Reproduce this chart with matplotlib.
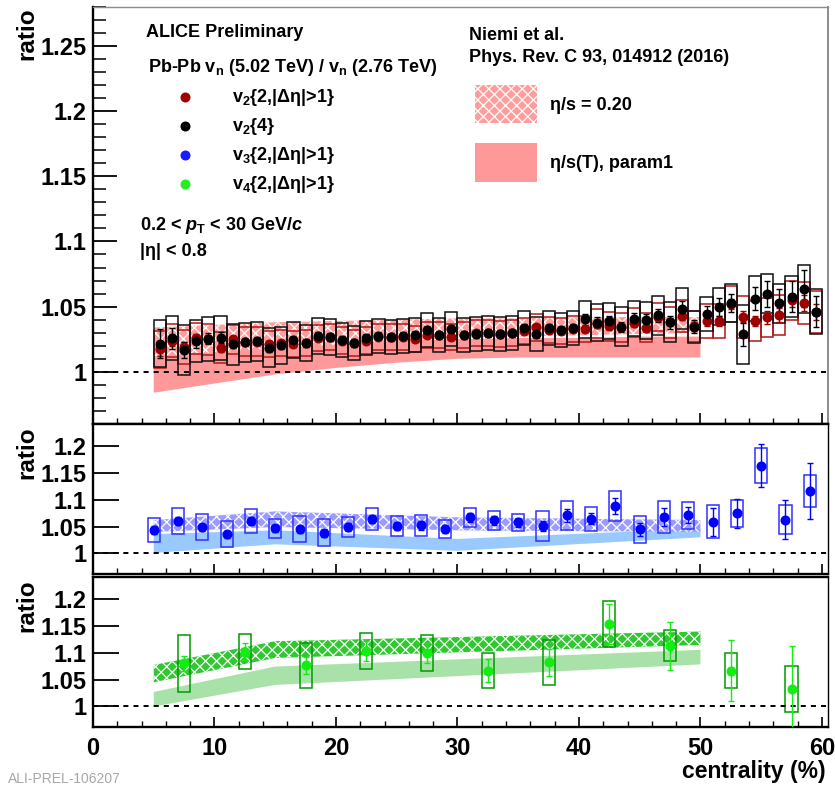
import numpy as np
import matplotlib
matplotlib.use("Agg")
import matplotlib.pyplot as plt
from matplotlib.patches import Rectangle
from matplotlib.lines import Line2D
from matplotlib.ticker import MultipleLocator, FixedLocator, FixedFormatter

# ---------------------------------------------------------------- data
# v2 ratios, 1% centrality bins
cent_v2 = [5.5, 6.5, 7.5, 8.5, 9.5, 10.5, 11.5, 12.5, 13.5, 14.5,
           15.5, 16.5, 17.5, 18.5, 19.5, 20.5, 21.5, 22.5, 23.5, 24.5,
           25.5, 26.5, 27.5, 28.5, 29.5, 30.5, 31.5, 32.5, 33.5, 34.5,
           35.5, 36.5, 37.5, 38.5, 39.5, 40.5, 41.5, 42.5, 43.5, 44.5,
           45.5, 46.5, 47.5, 48.5, 49.5, 50.5, 51.5, 52.5, 53.5, 54.5,
           55.5, 56.5, 57.5, 58.5, 59.5]

v24_ratio = [1.0216, 1.0257, 1.0167, 1.0236, 1.0254, 1.0262, 1.0210, 1.0226, 1.0234, 1.0185,
             1.0203, 1.0244, 1.0223, 1.0274, 1.0269, 1.0241, 1.0218, 1.0262, 1.0272, 1.0270,
             1.0275, 1.0282, 1.0318, 1.0282, 1.0326, 1.0282, 1.0287, 1.0300, 1.0287, 1.0300,
             1.0338, 1.0287, 1.0334, 1.0318, 1.0338, 1.0403, 1.0377, 1.0390, 1.0346, 1.0408,
             1.0395, 1.0434, 1.0382, 1.0485, 1.0344, 1.0446, 1.0500, 1.0526, 1.0287, 1.0562,
             1.0600, 1.0526, 1.0577, 1.0638, 1.0462]
v24_stat = [0.011, 0.008, 0.006, 0.005, 0.004, 0.004, 0.003, 0.003, 0.003, 0.003,
            0.003, 0.003, 0.003, 0.003, 0.003, 0.003, 0.003, 0.003, 0.003, 0.003,
            0.003, 0.003, 0.003, 0.003, 0.003, 0.003, 0.003, 0.003, 0.003, 0.003,
            0.003, 0.003, 0.003, 0.003, 0.003, 0.004, 0.004, 0.004, 0.004, 0.004,
            0.005, 0.005, 0.005, 0.006, 0.005, 0.006, 0.007, 0.007, 0.009, 0.009,
            0.010, 0.011, 0.012, 0.014, 0.012]
v24_syst = [0.018, 0.017, 0.0195, 0.016, 0.017, 0.017, 0.016, 0.015, 0.015, 0.015,
            0.014, 0.014, 0.014, 0.014, 0.014, 0.013, 0.013, 0.013, 0.013, 0.013,
            0.013, 0.013, 0.013, 0.013, 0.013, 0.013, 0.013, 0.013, 0.013, 0.013,
            0.013, 0.013, 0.013, 0.013, 0.013, 0.014, 0.014, 0.014, 0.015, 0.0135,
            0.014, 0.015, 0.015, 0.0155, 0.012, 0.013, 0.014, 0.0145, 0.0225, 0.017,
            0.015, 0.015, 0.016, 0.0185, 0.017]

v22_ratio = [1.0172, 1.0240, 1.0190, 1.0257, 1.0250, 1.0185, 1.0250, 1.0230, 1.0230, 1.0210,
             1.0220, 1.0210, 1.0220, 1.0260, 1.0270, 1.0240, 1.0220, 1.0240, 1.0270, 1.0265,
             1.0270, 1.0250, 1.0280, 1.0280, 1.0267, 1.0280, 1.0300, 1.0300, 1.0290, 1.0300,
             1.0313, 1.0340, 1.0320, 1.0310, 1.0330, 1.0326, 1.0370, 1.0350, 1.0340, 1.0377,
             1.0338, 1.0420, 1.0380, 1.0428, 1.0350, 1.0390, 1.0390, 1.0520, 1.0423, 1.0390,
             1.0420, 1.0436, 1.0550, 1.0526, 1.0460]
v22_stat = [0.005, 0.004, 0.004, 0.003, 0.003, 0.003, 0.002, 0.002, 0.002, 0.002,
            0.002, 0.002, 0.002, 0.002, 0.002, 0.002, 0.002, 0.002, 0.002, 0.002,
            0.002, 0.002, 0.002, 0.002, 0.002, 0.002, 0.002, 0.002, 0.002, 0.002,
            0.002, 0.002, 0.002, 0.002, 0.002, 0.002, 0.003, 0.003, 0.003, 0.003,
            0.003, 0.003, 0.003, 0.003, 0.003, 0.004, 0.004, 0.004, 0.004, 0.004,
            0.005, 0.005, 0.005, 0.006, 0.006]
v22_syst = [0.014, 0.013, 0.013, 0.012, 0.012, 0.012, 0.011, 0.011, 0.011, 0.010,
            0.010, 0.010, 0.010, 0.010, 0.010, 0.010, 0.010, 0.010, 0.010, 0.010,
            0.010, 0.010, 0.010, 0.010, 0.010, 0.010, 0.010, 0.010, 0.010, 0.010,
            0.010, 0.010, 0.010, 0.010, 0.010, 0.010, 0.011, 0.011, 0.011, 0.011,
            0.011, 0.011, 0.012, 0.012, 0.012, 0.013, 0.013, 0.014, 0.016, 0.015,
            0.015, 0.015, 0.015, 0.016, 0.016]

# v3 ratio, 2% centrality bins
cent_v3 = [5, 7, 9, 11, 13, 15, 17, 19, 21, 23, 25, 27, 29, 31,
           33, 35, 37, 39, 41, 43, 45, 47, 49, 51, 53, 55, 57, 59]
v3_ratio = [1.0433, 1.0606, 1.0483, 1.0353, 1.0606, 1.0465, 1.0446, 1.0383, 1.0495, 1.0638,
            1.0508, 1.0520, 1.0452, 1.0669, 1.0613, 1.0576, 1.0508, 1.0712, 1.0644, 1.0879,
            1.0446, 1.0680, 1.0712, 1.0588, 1.0743, 1.1630, 1.0630, 1.1158]
v3_stat = [0.007, 0.007, 0.007, 0.007, 0.007, 0.007, 0.007, 0.007, 0.007, 0.007,
           0.007, 0.008, 0.008, 0.008, 0.008, 0.009, 0.009, 0.012, 0.010, 0.015,
           0.012, 0.017, 0.015, 0.026, 0.027, 0.040, 0.037, 0.052]
v3_syst = [0.022, 0.0245, 0.024, 0.024, 0.022, 0.018, 0.024, 0.025, 0.019, 0.020,
           0.019, 0.0195, 0.017, 0.018, 0.018, 0.016, 0.028, 0.027, 0.022, 0.028,
           0.025, 0.030, 0.025, 0.031, 0.025, 0.0325, 0.027, 0.030]

# v4 ratio, 5% centrality bins
cent_v4 = [7.5, 12.5, 17.5, 22.5, 27.5, 32.5, 37.5, 42.5, 47.5, 52.5, 57.5]
v4_ratio = [1.0803, 1.1019, 1.0760, 1.1030, 1.0990, 1.0667, 1.0820, 1.1526, 1.1124, 1.0667, 1.0328]
v4_stat = [0.014, 0.015, 0.016, 0.019, 0.019, 0.021, 0.025, 0.037, 0.045, 0.057, 0.080]
v4_syst = [0.053, 0.033, 0.041, 0.034, 0.033, 0.033, 0.042, 0.042, 0.029, 0.032, 0.043]

# hydrodynamic predictions (Niemi et al.)
model_x_v2 = [5, 10, 15, 20, 25, 30, 35, 40, 45, 50]
v2_etas_T_lo = [0.984, 0.991, 0.998, 1.003, 1.007, 1.010, 1.011, 1.011, 1.011, 1.011]
v2_etas_T_hi = [1.018, 1.019, 1.020, 1.022, 1.024, 1.025, 1.026, 1.026, 1.027, 1.027]
v2_etas_020_lo = [1.012, 1.015, 1.018, 1.021, 1.024, 1.026, 1.027, 1.028, 1.029, 1.030]
v2_etas_020_hi = [1.034, 1.036, 1.038, 1.039, 1.040, 1.041, 1.041, 1.042, 1.042, 1.042]

model_x_v3 = [5, 15, 30, 50]
v3_etas_T_lo = [1.001, 1.017, 1.005, 1.030]
v3_etas_T_hi = [1.036, 1.043, 1.027, 1.046]
v3_etas_020_lo = [1.040, 1.049, 1.043, 1.040]
v3_etas_020_hi = [1.062, 1.078, 1.067, 1.062]

model_x_v4 = [5, 15, 50]
v4_etas_T_lo = [1.000, 1.040, 1.078]
v4_etas_T_hi = [1.027, 1.074, 1.105]
v4_etas_020_lo = [1.045, 1.090, 1.114]
v4_etas_020_hi = [1.077, 1.121, 1.139]

# ---------------------------------------------------------------- style
plt.rcParams['font.family'] = ['Liberation Sans', 'DejaVu Sans']
plt.rcParams['font.weight'] = 'bold'
plt.rcParams['mathtext.fontset'] = 'custom'
plt.rcParams['mathtext.rm'] = 'Liberation Sans:bold'
plt.rcParams['mathtext.it'] = 'Liberation Sans:bold:italic'
plt.rcParams['mathtext.bf'] = 'Liberation Sans:bold'
plt.rcParams['hatch.linewidth'] = 0.9

HATCH = 'xxx'
C_V22 = '#9e0000'
C_V24 = '#000000'
C_V3 = '#0000ff'
C_V3_BOX = '#3030ff'
C_V4 = '#11ee11'
C_V4_BOX = '#009900'
RED_SOLID, RED_HATCH = '#ff9999', '#ff9d9d'
BLUE_SOLID, BLUE_HATCH = '#99c9ff', '#9c9cff'
GREEN_SOLID, GREEN_HATCH = '#a8e2a8', '#30c830'

W, H = 835, 787
fig = plt.figure(figsize=(W / 100, H / 100), dpi=100)


def px_axes(x0, y0, x1, y1):
    return fig.add_axes([x0 / W, 1 - y1 / H, (x1 - x0) / W, (y1 - y0) / H])


ax1 = px_axes(93, 6.7, 828, 424)
ax2 = px_axes(93, 424, 828, 574)
ax3 = px_axes(93, 577, 828, 727)

XMAX = 60.5
for ax in (ax1, ax2, ax3):
    ax.set_xlim(0, XMAX)
    ax.xaxis.set_major_locator(MultipleLocator(10))
    ax.xaxis.set_minor_locator(MultipleLocator(2))
    ax.tick_params(axis='both', which='both', direction='in',
                   top=False, right=False)
    ax.tick_params(axis='x', which='major', length=7, width=1.2)
    ax.tick_params(axis='x', which='minor', length=4, width=1.0)
    ax.axhline(1.0, color='black', lw=1.4, ls=(0, (2.6, 2.6)), zorder=4)
    for s in ('left', 'bottom'):
        ax.spines[s].set_linewidth(1.7)
    ax.spines['right'].set_linewidth(1.0)
    ax.spines['top'].set_linewidth(1.7)

ax1.spines['top'].set_color('#8c8c8c')
ax1.spines['top'].set_linewidth(1.0)
ax1.spines['right'].set_color('#8c8c8c')
ax1.spines['right'].set_linewidth(1.4)

# y axes
ax1.set_ylim(0.96, 1.28)
ax1.yaxis.set_major_locator(FixedLocator([1.0, 1.05, 1.1, 1.15, 1.2, 1.25]))
ax1.yaxis.set_major_formatter(FixedFormatter(['1', '1.05', '1.1', '1.15', '1.2', '1.25']))
ax1.yaxis.set_minor_locator(MultipleLocator(0.01))
ax1.tick_params(axis='y', which='major', length=17, width=1.3, labelsize=17, pad=4.5)
ax1.tick_params(axis='y', which='minor', length=9, width=1.1)
ax1.tick_params(axis='x', which='major', length=8)
ax1.tick_params(axis='x', labelbottom=False)

for ax in (ax2, ax3):
    ax.set_ylim(0.962, 1.240)
    ax.yaxis.set_major_locator(FixedLocator([1.0, 1.05, 1.1, 1.15, 1.2]))
    ax.yaxis.set_major_formatter(FixedFormatter(['1', '1.05', '1.1', '1.15', '1.2']))
    ax.yaxis.set_minor_locator(FixedLocator([]))
    ax.tick_params(axis='y', which='major', length=19, width=1.3, labelsize=17, pad=4.5)
ax2.tick_params(axis='x', labelbottom=False)
ax3.tick_params(axis='x', which='major', labelsize=17, pad=7)


def model_band(ax, x, lo, hi, color, hatched, z):
    if hatched:
        ax.fill_between(x, lo, hi, facecolor=color, edgecolor='white',
                        hatch=HATCH, linewidth=0, zorder=z)
    else:
        ax.fill_between(x, lo, hi, facecolor=color, edgecolor='none',
                        linewidth=0, zorder=z)


def data_series(ax, x, y, stat, syst, color, box_color, ms=6.2):
    x = np.asarray(x, float)
    y = np.asarray(y, float)
    syst = np.asarray(syst, float)
    ax.bar(x, 2 * syst, bottom=y - syst, width=1.0, fill=False,
           edgecolor=box_color, linewidth=1.1, zorder=3)
    ax.errorbar(x, y, yerr=stat, fmt='o', ms=ms, color=color, mec=color,
                ecolor=color, elinewidth=1.0, capsize=2.0, capthick=1.0,
                zorder=5)


# top panel: v2
model_band(ax1, model_x_v2, v2_etas_T_lo, v2_etas_T_hi, RED_SOLID, False, 1)
model_band(ax1, model_x_v2, v2_etas_020_lo, v2_etas_020_hi, RED_HATCH, True, 2)
data_series(ax1, cent_v2, v22_ratio, v22_stat, v22_syst, C_V22, '#b01818')
data_series(ax1, cent_v2, v24_ratio, v24_stat, v24_syst, C_V24, '#111111')

# middle panel: v3
model_band(ax2, model_x_v3, v3_etas_T_lo, v3_etas_T_hi, BLUE_SOLID, False, 1)
model_band(ax2, model_x_v3, v3_etas_020_lo, v3_etas_020_hi, BLUE_HATCH, True, 2)
data_series(ax2, cent_v3, v3_ratio, v3_stat, v3_syst, C_V3, C_V3_BOX)

# bottom panel: v4
model_band(ax3, model_x_v4, v4_etas_T_lo, v4_etas_T_hi, GREEN_SOLID, False, 1)
model_band(ax3, model_x_v4, v4_etas_020_lo, v4_etas_020_hi, GREEN_HATCH, True, 2)
data_series(ax3, cent_v4, v4_ratio, v4_stat, v4_syst, C_V4, C_V4_BOX)


# ---------------------------------------------------------------- text
def ftext(x, y, s, **kw):
    kw.setdefault('va', 'baseline')
    kw.setdefault('ha', 'left')
    kw.setdefault('fontsize', 13)
    kw.setdefault('fontweight', 'bold')
    return fig.text(x / W, 1 - y / H, s, **kw)


for ytop in (7, 426, 579):
    ftext(27, ytop, 'ratio', rotation=90, ha='center', va='top', fontsize=17.5)
ftext(826, 778, 'centrality (%)', ha='right', fontsize=16.5)

ftext(146, 37, 'ALICE Preliminary')
ftext(148, 72, r'Pb-Pb v$_{\rm n}$ (5.02 TeV) / v$_{\rm n}$ (2.76 TeV)')

legend_rows = [
    (r'v$_{2}${2,|Δη|>1}', C_V22, 102),
    (r'v$_{2}${4}', C_V24, 131),
    (r'v$_{3}${2,|Δη|>1}', '#1a1aff', 160),
    (r'v$_{4}${2,|Δη|>1}', '#22ee22', 189),
]
for label, col, yb in legend_rows:
    fig.add_artist(Line2D([185 / W], [1 - (yb - 5.5) / H], transform=fig.transFigure,
                          marker='o', ms=6.2, color=col, mec=col, ls='none'))
    ftext(232, yb, label)

ftext(140, 230, r'0.2 < $p_{\rm T}$ < 30 GeV/$c$')
ftext(140, 256, '|η| < 0.8')

ftext(469, 40, 'Niemi et al.')
ftext(469, 62, 'Phys. Rev. C 93, 014912 (2016)')

fig.add_artist(Rectangle((475 / W, 1 - 123 / H), 62 / W, 38 / H, transform=fig.transFigure,
                         facecolor=RED_HATCH, edgecolor='white', hatch=HATCH, linewidth=0))
ftext(550, 110, 'η/s = 0.20')
fig.add_artist(Rectangle((475 / W, 1 - 182 / H), 62 / W, 39 / H, transform=fig.transFigure,
                         facecolor=RED_SOLID, edgecolor='none', linewidth=0))
ftext(550, 168, 'η/s(T), param1')

ftext(8, 786, 'ALI-PREL-106207', va='bottom', fontsize=10, fontweight='normal', color='#a8a8a8')

fig.savefig('out.png', dpi=100)
